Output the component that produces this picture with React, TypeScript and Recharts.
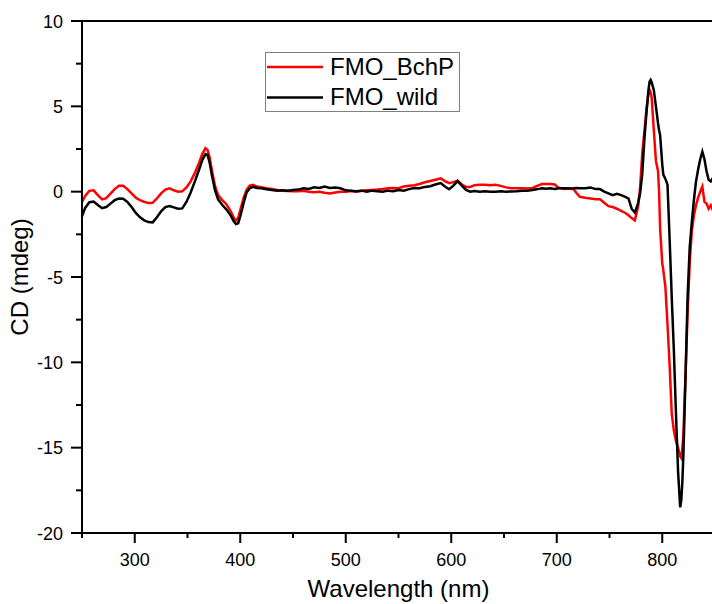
import React from "react";
import { LineChart, Line, XAxis, YAxis, Legend, ReferenceLine } from "recharts";

const wavelength = [250,253,257,261,265,269,273,277,281,285,289,293,297,301,305,309,313,317,321,325,329,333,337,341,345,349,353,357,361,364,367,369,371,373,376,379,383,387,391,394,396,398,400,403,406,409,412,416,420,425,430,435,440,445,450,455,460,465,470,475,480,485,490,495,500,505,510,515,520,525,530,535,540,545,550,555,560,565,570,575,580,585,590,594,598,602,606,610,614,618,622,627,632,637,642,647,652,657,662,667,672,677,682,686,690,694,698,702,707,712,716,719,722,727,732,737,741,745,749,753,757,761,765,768,771,774,777,779,781,783,785,787,788,789,790,792,794,796,797,798,800,801,803,805,807,809,811,813,815,817,818,819,820,822,824,826,828,830,832,834,836,838,840,842,844,846,848,850];

const fmoBchP = [-0.6,-0.25,0.05,0.08,-0.2,-0.45,-0.38,-0.12,0.15,0.35,0.35,0.15,-0.1,-0.35,-0.5,-0.6,-0.66,-0.65,-0.4,-0.1,0.12,0.2,0.08,0.0,0.02,0.25,0.6,1.1,1.7,2.2,2.55,2.45,2.0,1.3,0.35,-0.2,-0.5,-0.75,-1.15,-1.55,-1.68,-1.55,-1.1,-0.4,0.1,0.35,0.4,0.3,0.26,0.2,0.15,0.1,0.06,0.04,0.02,0.03,0.05,0.0,-0.04,0.0,-0.06,-0.1,-0.05,0.0,0.0,0.04,0.0,0.05,0.08,0.1,0.12,0.15,0.2,0.22,0.2,0.3,0.35,0.38,0.45,0.55,0.62,0.7,0.78,0.62,0.5,0.56,0.65,0.42,0.28,0.28,0.38,0.4,0.4,0.37,0.4,0.34,0.25,0.2,0.2,0.2,0.18,0.22,0.35,0.45,0.45,0.45,0.42,0.22,0.16,0.2,0.14,-0.1,-0.3,-0.36,-0.4,-0.45,-0.45,-0.65,-0.85,-0.9,-1.0,-1.12,-1.25,-1.38,-1.55,-1.68,-0.9,0.2,2.2,3.5,4.8,5.8,5.95,5.8,5.5,3.6,1.8,1.2,0.0,-2.2,-4.2,-4.6,-5.6,-7.8,-10.2,-13.0,-14.0,-14.6,-15.0,-15.5,-15.6,-15.1,-14.3,-10.8,-7.2,-4.2,-2.3,-1.4,-0.8,-0.35,0.0,0.3,-0.6,-0.7,-1.0,-0.8,-1.1,-0.9];

const fmoWild = [-1.45,-0.95,-0.62,-0.58,-0.78,-0.97,-0.9,-0.7,-0.5,-0.4,-0.42,-0.6,-0.9,-1.25,-1.5,-1.68,-1.78,-1.8,-1.5,-1.15,-0.9,-0.84,-0.92,-1.0,-0.98,-0.6,-0.05,0.6,1.3,1.85,2.2,2.15,1.7,1.0,0.1,-0.45,-0.78,-1.05,-1.4,-1.75,-1.9,-1.85,-1.45,-0.7,-0.05,0.2,0.28,0.22,0.2,0.14,0.1,0.06,0.08,0.05,0.1,0.12,0.2,0.16,0.26,0.22,0.3,0.22,0.24,0.2,0.08,0.05,0.02,0.06,0.0,0.06,0.03,0.0,0.06,0.02,0.1,0.05,0.15,0.22,0.2,0.28,0.32,0.42,0.5,0.3,0.14,0.35,0.62,0.35,0.1,0.0,0.04,0.0,0.02,0.0,0.0,0.02,0.0,0.01,0.03,0.06,0.05,0.1,0.15,0.2,0.17,0.2,0.16,0.2,0.2,0.18,0.2,0.22,0.2,0.2,0.24,0.15,0.15,0.0,-0.1,-0.2,-0.12,-0.2,-0.3,-0.4,-1.0,-1.22,-0.7,-0.1,1.0,3.0,4.6,6.0,6.45,6.55,6.4,5.95,5.0,4.0,3.6,3.3,1.6,1.0,0.75,0.4,-2.8,-6.2,-9.3,-13.0,-16.4,-18.5,-18.1,-17.1,-15.5,-11.0,-6.2,-3.3,-1.8,-0.5,0.6,1.3,1.9,2.34,1.9,1.2,0.7,0.6,0.8,0.85];

const xTicks = [250,300,350,400,450,500,550,600,650,700,750,800,850];
const xTopTicks = [300,400,500,600,700,800];
const yTicks = [-20,-17.5,-15,-12.5,-10,-7.5,-5,-2.5,0,2.5,5,7.5,10];
const xDomain = [250, 850];
const yDomain = [-20, 10];

const seriesNames = ["FMO_BchP", "FMO_wild"];
const seriesColors = ["#ff0000", "#000000"];
const xTitle = "Wavelength (nm)";
const yTitle = "CD (mdeg)";

const data = wavelength.map((w, i) => ({ w, bchp: fmoBchP[i], wild: fmoWild[i] }));

const FONT = "'Liberation Sans', Arial, sans-serif";

const YTick = (props: any) => {
  const { x, y, payload } = props;
  const v = Number(payload.value);
  const major = Math.abs(v % 5) < 1e-9;
  const len = major ? 11 : 6;
  return (
    <g>
      <rect x={x - len} y={y - 1} width={len} height={2} fill="#000" />
      {major ? (
        <text x={x - 19} y={y + 6.5} textAnchor="end" fontSize={18} fontFamily={FONT} fill="#000">
          {String(v)}
        </text>
      ) : null}
    </g>
  );
};

const XTick = (props: any) => {
  const { x, y, payload } = props;
  const v = Number(payload.value);
  const major = v % 100 === 0;
  const len = major ? 10 : 5;
  return (
    <g>
      <rect x={x - 1} y={y} width={2} height={len} fill="#000" />
      {major ? (
        <text x={x} y={y + 33} textAnchor="middle" fontSize={18} fontFamily={FONT} fill="#000">
          {String(v)}
        </text>
      ) : null}
    </g>
  );
};

const XTitle = (props: any) => {
  const vb = props.viewBox || {};
  return (
    <text x={vb.x + vb.width / 2} y={vb.y + 64} textAnchor="middle" fontSize={24} fontFamily={FONT} fill="#000">
      {xTitle}
    </text>
  );
};

const YTitle = (props: any) => {
  const vb = props.viewBox || {};
  const cy = vb.y + vb.height / 2;
  const cx = 28;
  return (
    <text x={cx} y={cy} transform={`rotate(-90 ${cx} ${cy})`} textAnchor="middle" fontSize={24} fontFamily={FONT} fill="#000">
      {yTitle}
    </text>
  );
};

const LegendBox = (props: any) => {
  const payload = props.payload || [];
  return (
    <svg width={196} height={61} style={{ display: "block" }}>
      <rect x={0.5} y={0.5} width={194} height={59} fill="#fff" stroke="#808080" strokeWidth={1} />
      {payload.map((p: any, i: number) => (
        <g key={i}>
          <line x1={2} x2={58} y1={15 + i * 30.6} y2={15 + i * 30.6} stroke={p.color} strokeWidth={2.5} />
          <text x={65} y={23 + i * 30} fontSize={24} fontFamily={FONT} fill="#000">
            {p.value}
          </text>
        </g>
      ))}
    </svg>
  );
};

export default function App() {
  return (
    <div style={{ position: "absolute", left: 0, top: 0, width: 712, height: 604, overflow: "hidden", background: "#fff" }}>
      <LineChart width={712} height={604} data={data} margin={{ top: 21, right: -3, left: 0, bottom: 0 }}>
        <XAxis
          dataKey="w"
          type="number"
          domain={xDomain}
          ticks={xTicks}
          interval={0}
          tickSize={0}
          tickMargin={0}
          height={71}
          axisLine={{ stroke: "#000", strokeWidth: 2 }}
          tickLine={false}
          tick={<XTick />}
          label={<XTitle />}
        />
        <XAxis
          xAxisId="top"
          dataKey="w"
          type="number"
          orientation="top"
          mirror
          domain={xDomain}
          ticks={xTopTicks}
          interval={0}
          tickSize={10}
          height={30}
          axisLine={{ stroke: "#000", strokeWidth: 2 }}
          tickLine={{ stroke: "#000", strokeWidth: 2 }}
          tick={false}
        />
        <YAxis
          type="number"
          domain={yDomain}
          ticks={yTicks}
          interval={0}
          tickSize={0}
          tickMargin={0}
          width={82}
          axisLine={{ stroke: "#000", strokeWidth: 2 }}
          tickLine={false}
          tick={<YTick />}
          label={<YTitle />}
        />
        <ReferenceLine y={10} stroke="#000" strokeWidth={2} />
        <Legend
          layout="vertical"
          align="center"
          verticalAlign="middle"
          content={<LegendBox />}
          wrapperStyle={{ position: "absolute", left: 265, top: 52, width: 196, height: 61 }}
        />
        <Line
          type="linear"
          dataKey="bchp"
          name={seriesNames[0]}
          stroke={seriesColors[0]}
          strokeWidth={2.5}
          dot={false}
          activeDot={false}
          isAnimationActive={false}
        />
        <Line
          type="linear"
          dataKey="wild"
          name={seriesNames[1]}
          stroke={seriesColors[1]}
          strokeWidth={2.5}
          dot={false}
          activeDot={false}
          isAnimationActive={false}
        />
      </LineChart>
    </div>
  );
}
